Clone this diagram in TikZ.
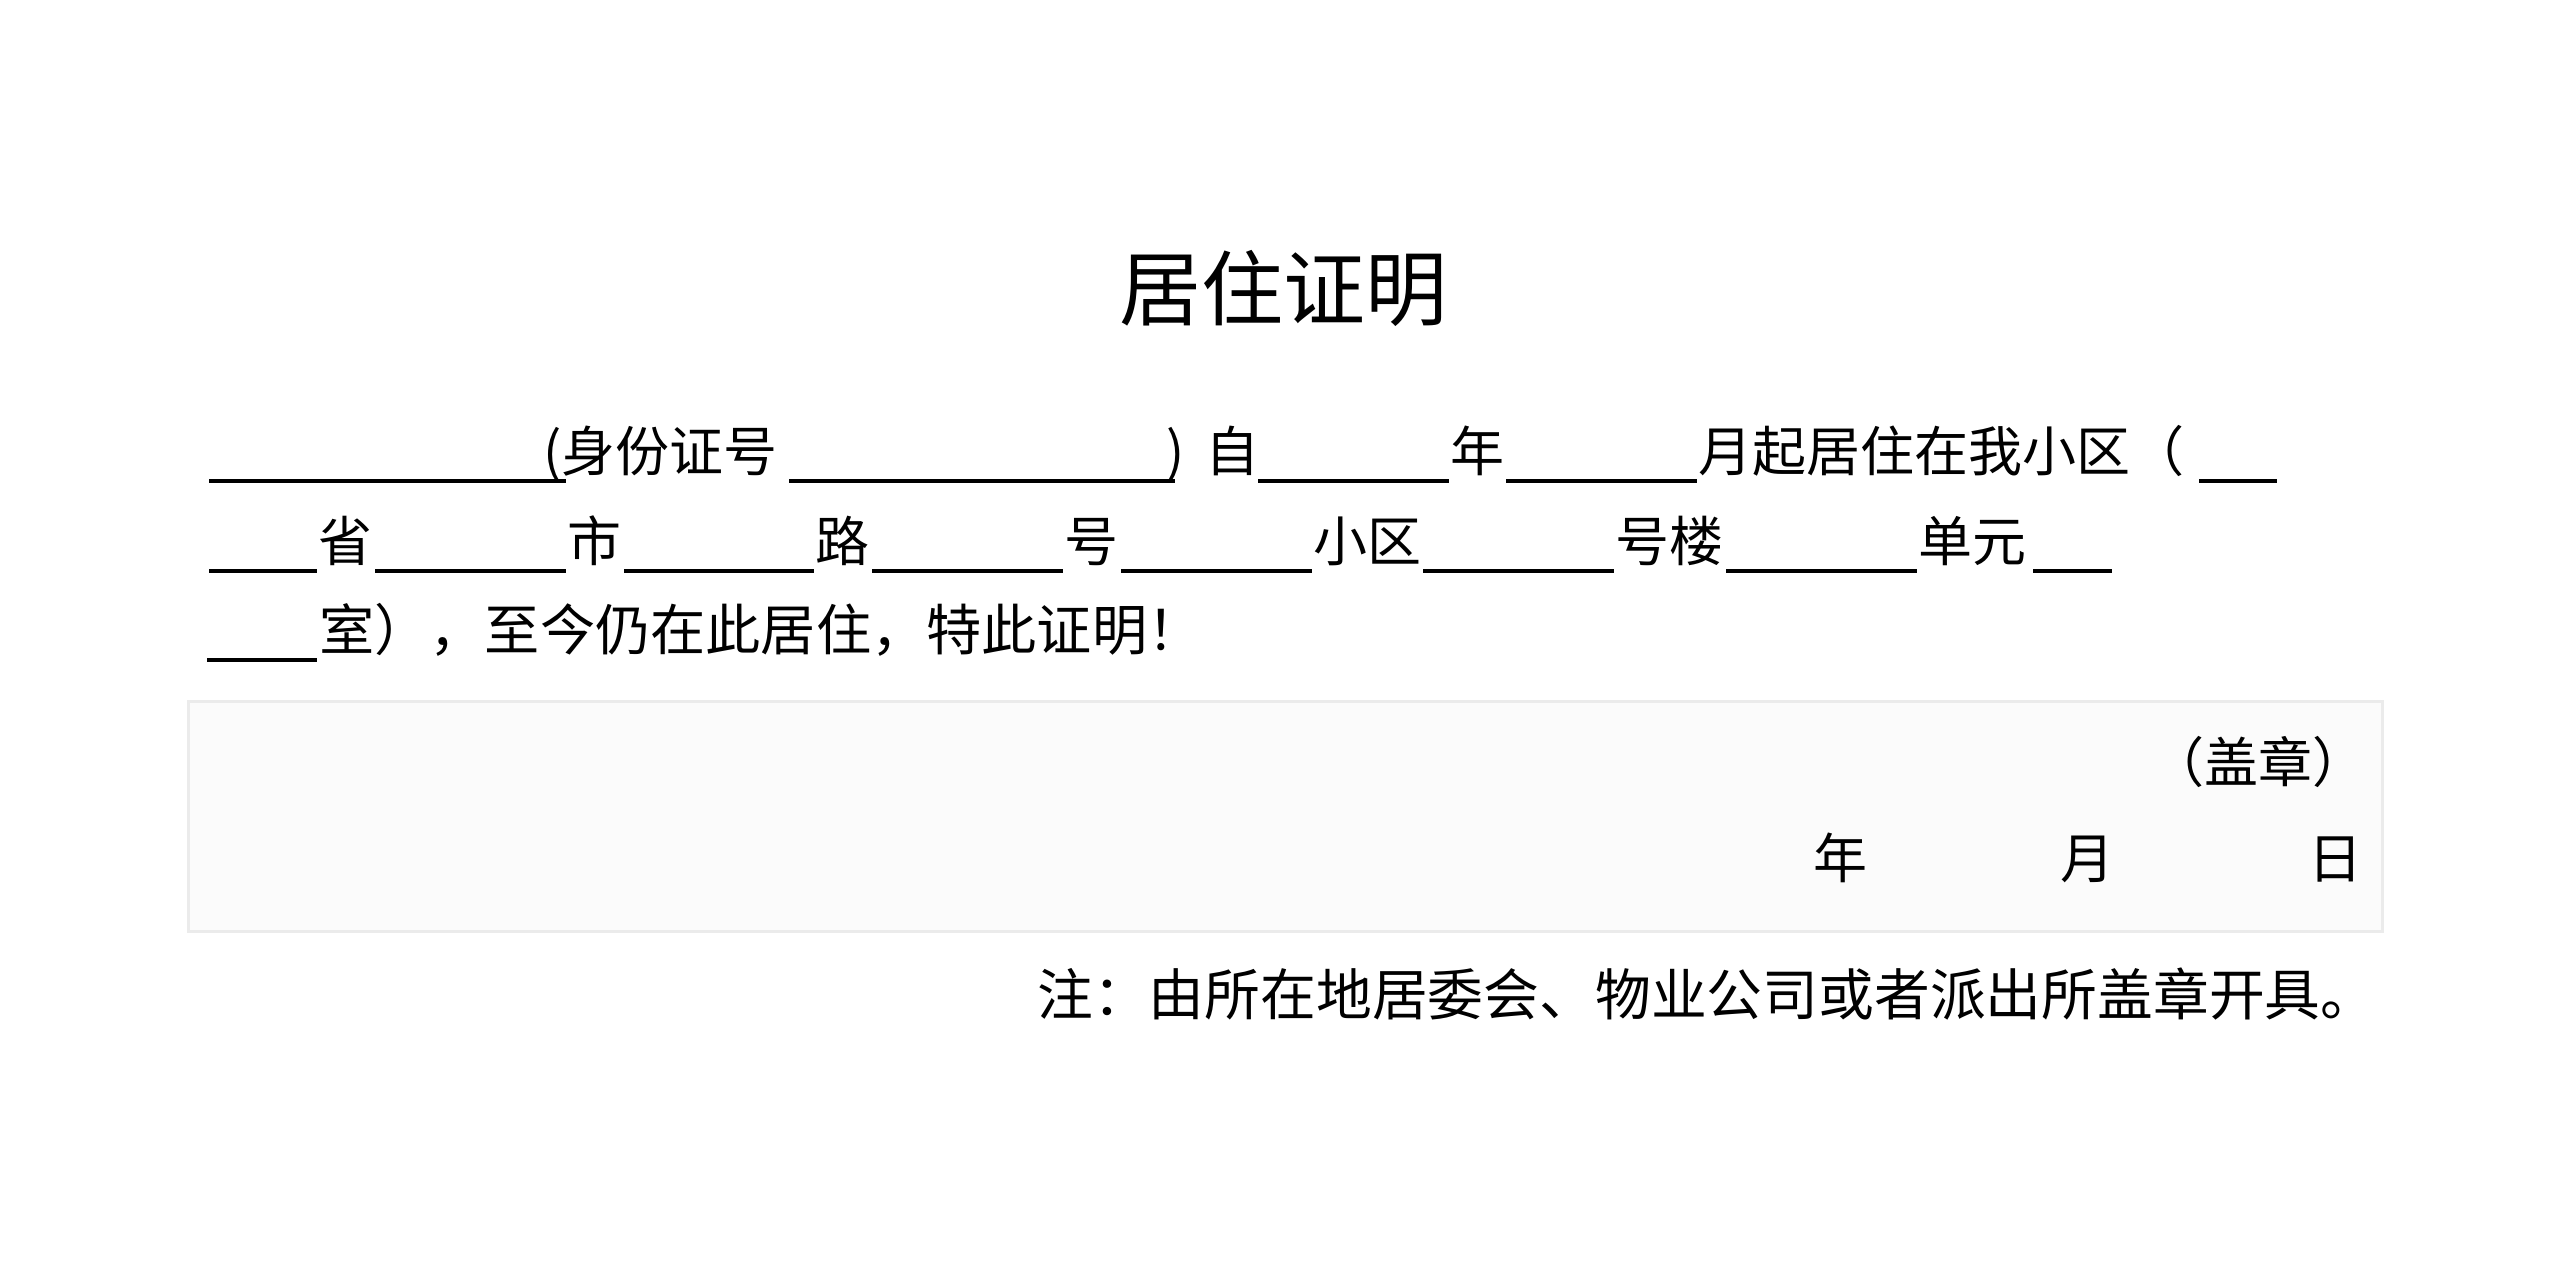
\documentclass[tikz,border=0pt]{standalone}
\usepackage{fontspec}
\newfontfamily\cjk{Noto Sans CJK SC}
\definecolor{boxfill}{HTML}{FBFBFB}
\definecolor{boxline}{HTML}{EBEBEB}
\begin{document}
\begin{tikzpicture}[x=1pt,y=-1pt,
  txt/.style={anchor=base west,inner sep=0pt,font=\cjk\fontsize{54}{54}\selectfont},
  wtxt/.style={anchor=base west,inner sep=0pt,font=\cjk\fontsize{55.2}{55.2}\selectfont},
  ttl/.style={anchor=base,inner sep=0pt,font=\cjk\fontsize{82}{82}\selectfont},
  uline/.style={line width=4pt,black},
  panel/.style={fill=boxfill,draw=boxline,line width=3pt}]
\useasboundingbox[fill=white] (0,0) rectangle (2560,1280);
% title
\node[ttl] (title) at (1283,319) {居住证明};
% line 1
\draw[uline] (209,481) -- (566,481);
\node[txt] (l1a) at (543,471) {(身份证号};
\draw[uline] (789,481) -- (1175,481);
\node[txt] (l1b) at (1166,471) {)};
\node[txt] (l1c) at (1205,471) {自};
\draw[uline] (1258,481) -- (1449,481);
\node[txt] (l1d) at (1450,471) {年};
\draw[uline] (1506,481) -- (1697,481);
\node[txt] (l1e) at (1698,471) {月起居住在我小区（};
\draw[uline] (2199,481) -- (2277,481);
% line 2
\draw[uline] (209,571) -- (317,571);
\node[txt] (l2a) at (318,561) {省};
\draw[uline] (375,571) -- (566,571);
\node[txt] (l2b) at (567,561) {市};
\draw[uline] (624,571) -- (814,571);
\node[txt] (l2c) at (815,561) {路};
\draw[uline] (872,571) -- (1063,571);
\node[txt] (l2d) at (1064,561) {号};
\draw[uline] (1121,571) -- (1312,571);
\node[txt] (l2e) at (1313,561) {小区};
\draw[uline] (1423,571) -- (1614,571);
\node[txt] (l2f) at (1615,561) {号楼};
\draw[uline] (1726,571) -- (1917,571);
\node[txt] (l2g) at (1918,561) {单元};
\draw[uline] (2033,571) -- (2112,571);
% line 3
\draw[uline] (207,660) -- (317,660);
\node[wtxt] (l3a) at (319,650) {室），至今仍在此居住，特此证明！};
% signature panel
\draw[panel] (188,701) rectangle (2382,931);
\node[txt,anchor=base east] (seal) at (2367,782) {（盖章）};
\node[txt] (yr) at (1813,878) {年};
\node[txt] (mo) at (2060,878) {月};
\node[txt] (dy) at (2308,878) {日};
% note
\node[wtxt,font=\cjk\fontsize{55.8}{55.8}\selectfont] (note) at (1037,1015) {注：由所在地居委会、物业公司或者派出所盖章开具。};
\end{tikzpicture}
\end{document}
